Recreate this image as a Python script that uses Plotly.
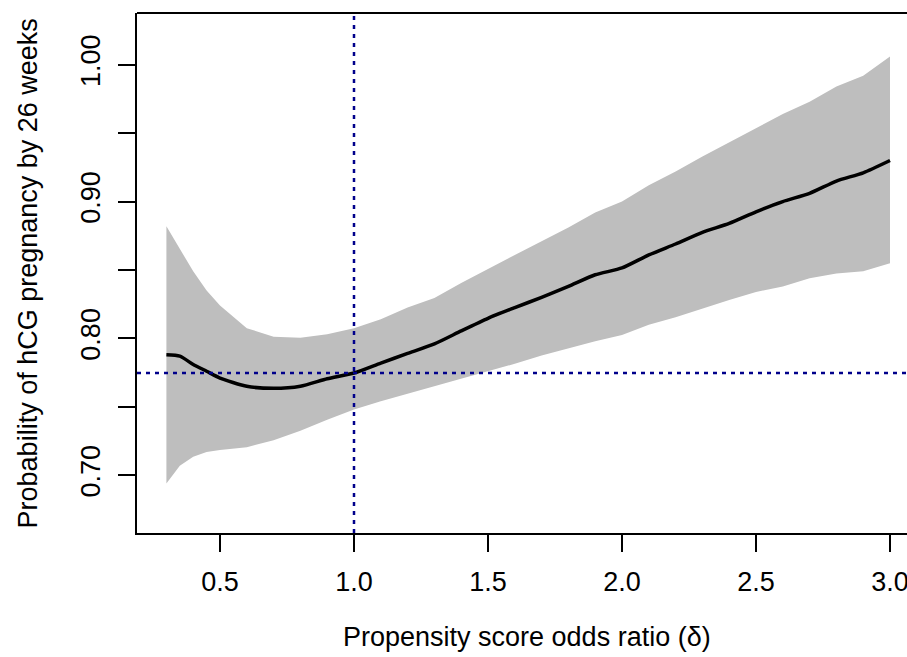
import plotly.graph_objects as go

delta = [0.30, 0.35, 0.40, 0.45, 0.50, 0.60, 0.70, 0.80, 0.90, 1.00,
         1.10, 1.20, 1.30, 1.40, 1.50, 1.60, 1.70, 1.80, 1.90, 2.00,
         2.10, 2.20, 2.30, 2.40, 2.50, 2.60, 2.70, 2.80, 2.90, 3.00]

estimate = [0.788, 0.787, 0.781, 0.776, 0.771, 0.765, 0.7635, 0.765, 0.7705, 0.7747,
            0.782, 0.789, 0.796, 0.8055, 0.8147, 0.8225, 0.830, 0.838, 0.8465, 0.8515,
            0.861, 0.869, 0.8775, 0.884, 0.8925, 0.900, 0.906, 0.915, 0.921, 0.930]

upper = [0.882, 0.866, 0.849, 0.835, 0.824, 0.8075, 0.8013, 0.8005, 0.8030, 0.8075,
         0.814, 0.8225, 0.8295, 0.8405, 0.851, 0.861, 0.871, 0.881, 0.892, 0.900,
         0.912, 0.922, 0.933, 0.9435, 0.954, 0.964, 0.973, 0.984, 0.992, 1.006]

lower = [0.694, 0.707, 0.7135, 0.717, 0.7185, 0.7205, 0.7255, 0.7325, 0.7405, 0.7480,
         0.754, 0.7595, 0.7645, 0.770, 0.7756, 0.7815, 0.7875, 0.793, 0.798, 0.8025,
         0.810, 0.8155, 0.822, 0.828, 0.834, 0.838, 0.844, 0.8475, 0.849, 0.855]

ref_delta = 1.0
ref_prob = 0.7747

x_ticks = [0.5, 1.0, 1.5, 2.0, 2.5, 3.0]
x_tick_labels = ["0.5", "1.0", "1.5", "2.0", "2.5", "3.0"]
y_ticks = [0.70, 0.75, 0.80, 0.85, 0.90, 0.95, 1.00]
y_tick_labels = ["0.70", "", "0.80", "", "0.90", "", "1.00"]

FONT = "Liberation Sans, Arial, Helvetica, sans-serif"
NAVY = "#00008B"

fig = go.Figure()
fig.add_trace(go.Scatter(x=delta, y=upper, mode="lines", line=dict(width=0, color="#BEBEBE"),
                         showlegend=False, hoverinfo="skip"))
fig.add_trace(go.Scatter(x=delta, y=lower, mode="lines", line=dict(width=0, color="#BEBEBE"),
                         fill="tonexty", fillcolor="#BEBEBE", showlegend=False, hoverinfo="skip"))
fig.add_trace(go.Scatter(x=delta, y=estimate, mode="lines",
                         line=dict(width=3.5, color="black", shape="spline", smoothing=0.6),
                         showlegend=False))

# reference lines
fig.add_shape(type="line", xref="x", yref="paper", x0=ref_delta, x1=ref_delta, y0=0, y1=1,
              line=dict(color=NAVY, width=2.5, dash="4px,5px"), layer="above")
fig.add_shape(type="line", xref="paper", yref="y", x0=0, x1=1, y0=ref_prob, y1=ref_prob,
              line=dict(color=NAVY, width=2.5, dash="4px,5px"), layer="above")
# top border of box
fig.add_shape(type="line", xref="paper", yref="paper", x0=0, x1=1, y0=1, y1=1,
              line=dict(color="black", width=2), layer="above")

fig.update_layout(
    width=907, height=657,
    margin=dict(l=137, r=0, t=13, b=124, autoexpand=False),
    plot_bgcolor="white", paper_bgcolor="white",
    font=dict(family=FONT, size=27, color="black"),
    showlegend=False,
    xaxis=dict(range=[0.1903, 3.0634], showgrid=False, zeroline=False, automargin=False,
               showline=True, linecolor="black", linewidth=2,
               ticks="outside", ticklen=17, tickwidth=2, tickcolor="black",
               tickvals=x_ticks, ticktext=x_tick_labels,
               ticklabelstandoff=7, ticklabeloverflow="allow",
               tickfont=dict(family=FONT, size=27, color="black")),
    yaxis=dict(range=[0.6578, 1.0378], showgrid=False, zeroline=False, automargin=False,
               showline=True, linecolor="black", linewidth=2,
               ticks="outside", ticklen=17, tickwidth=2, tickcolor="black",
               tickvals=y_ticks, ticktext=y_tick_labels, tickangle=-90,
               ticklabelstandoff=7, ticklabeloverflow="allow",
               tickfont=dict(family=FONT, size=27, color="black")),
    annotations=[
        dict(text="Propensity score odds ratio (δ)", xref="paper", yref="paper",
             x=0.5065, y=-0.2, xanchor="center", yanchor="middle", showarrow=False,
             font=dict(family=FONT, size=27, color="black")),
        dict(text="Probability of hCG pregnancy by 26 weeks", xref="paper", yref="paper",
             x=-0.141, y=0.5, xanchor="center", yanchor="middle", showarrow=False,
             textangle=-90, font=dict(family=FONT, size=27, color="black")),
    ],
)

fig.write_html("out.html", config={"displayModeBar": False},
               post_script="document.body.style.margin='0';document.body.style.overflow='hidden';")
